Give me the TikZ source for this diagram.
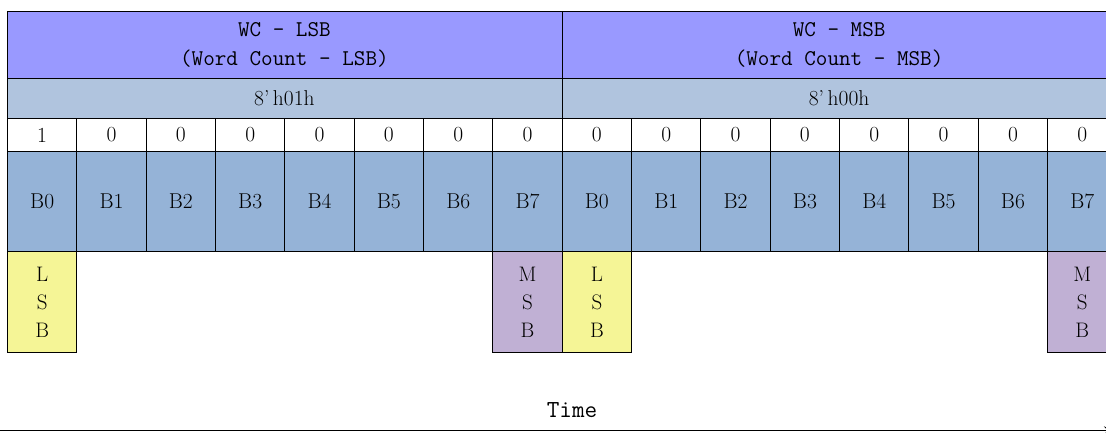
\documentclass[tikz,border=0pt]{standalone}
\usepackage{fontspec}
\usetikzlibrary{arrows.meta}
\definecolor{hdrcol}{RGB}{153,153,255}
\definecolor{hexcol}{RGB}{176,196,222}
\definecolor{bitcol}{RGB}{149,179,215}
\definecolor{lsbcol}{RGB}{245,245,150}
\definecolor{msbcol}{RGB}{192,176,212}
\begin{document}
\begin{tikzpicture}[x=1pt,y=-1pt,
  box/.style={draw=black, line width=1pt, inner sep=0pt, anchor=north west, minimum width=#1},
  box/.default=69.34pt,
  hdr/.style={box=554.7pt, fill=hdrcol, minimum height=67pt},
  hexrow/.style={box=554.7pt, fill=hexcol, minimum height=40pt},
  valcell/.style={box, fill=white, minimum height=33pt},
  bitcell/.style={box, fill=bitcol, minimum height=100pt},
  lsbcell/.style={box, fill=lsbcol, minimum height=101pt},
  msbcell/.style={box, fill=msbcol, minimum height=101pt},
  txt/.style={font=\fontsize{21.5}{24}\selectfont},
  mono/.style={font=\ttfamily\fontsize{22.5}{29}\selectfont, align=center},
  stack/.style={font=\fontsize{21}{28}\selectfont, align=center}
]
\clip (0,0) rectangle (1106,432);
\fill[white] (0,0) rectangle (1106,432);
% headers
\node[hdr] (h1) at (7,11) {};
\node[hdr] (h2) at (561.7,11) {};
\node[mono] (h1t) at (284.4,44.5) {WC - LSB\\(Word Count - LSB)};
\node[mono] (h2t) at (839.1,44.5) {WC - MSB\\(Word Count - MSB)};
\node[hexrow] (x1) at (7,78) {};
\node[hexrow] (x2) at (561.7,78) {};
\node[txt] (x1t) at (284.4,98) {8’\,h01h};
\node[txt] (x2t) at (839.1,98) {8’\,h00h};
% value and bit cells
\foreach \i/\v/\b in {0/1/0,1/0/1,2/0/2,3/0/3,4/0/4,5/0/5,6/0/6,7/0/7,8/0/0,9/0/1,10/0/2,11/0/3,12/0/4,13/0/5,14/0/6,15/0/7}{
  \pgfmathsetmacro{\xx}{7+\i*69.34}
  \node[valcell] (v\i) at (\xx,118) {};
  \node[txt] at (v\i.center) {\v};
  \node[bitcell] (b\i) at (\xx,151) {};
  \node[txt] at (b\i.center) {B\b};
}
% LSB / MSB markers
\node[lsbcell] (l1) at (7,251) {};
\node[stack] at (l1.center) {L\\S\\B};
\node[msbcell] (m1) at (492.38,251) {};
\node[stack] at (m1.center) {M\\S\\B};
\node[lsbcell] (l2) at (561.72,251) {};
\node[stack] at (l2.center) {L\\S\\B};
\node[msbcell] (m2) at (1047.1,251) {};
\node[stack] at (m2.center) {M\\S\\B};
% time axis
\node[font=\ttfamily\fontsize{24.5}{26}\selectfont] (time) at (572,410) {Time};
\coordinate (t0) at (0,430.5);
\coordinate (t1) at (1116,430.5);
\draw[line width=1.5pt, -{Stealth[length=12pt,width=8pt]}] (t0) -- (t1);
\end{tikzpicture}
\end{document}
